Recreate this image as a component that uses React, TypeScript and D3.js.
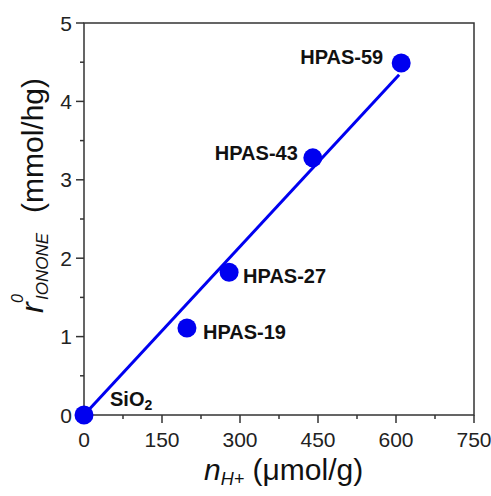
import * as d3 from 'd3';

// sample data
const samples = ['SiO2', 'HPAS-19', 'HPAS-27', 'HPAS-43', 'HPAS-59'];
const acidity = [0, 198, 279, 440, 610]; // n_H+ umol/g
const rates = [0, 1.11, 1.82, 3.28, 4.49]; // r0 mmol/hg
const fitX = [0, 606];
const fitY = [0, 4.34];
const xTicks = [0, 150, 300, 450, 600, 750];
const yTicks = [0, 1, 2, 3, 4, 5];

const W = 491;
const H = 496;
const margin = { top: 23, right: 17, bottom: 81, left: 84 };
const FONT = '"Liberation Sans", Arial, sans-serif';
const BLUE = '#0000f0';

export default function App() {
  const x = d3.scaleLinear().domain([0, 750]).range([margin.left, W - margin.right]);
  const y = d3.scaleLinear().domain([0, 5]).range([H - margin.bottom, margin.top]);
  const x0 = x(0);
  const y0 = y(0);
  const minorX = d3.range(75, 750, 150);
  const minorY = d3.range(0.5, 5, 1);
  const line = d3.line<number>().x((d) => x(fitX[d])).y((d) => y(fitY[d]));

  // label offsets relative to each point (dx, dy, anchor)
  const labelPos: Record<string, [number, number, string]> = {
    'SiO2': [26, -9, 'start'],
    'HPAS-19': [16, 11, 'start'],
    'HPAS-27': [14, 11, 'start'],
    'HPAS-43': [-15, 2, 'end'],
    'HPAS-59': [-18, 1, 'end'],
  };

  return (
    <svg width={W} height={H} style={{ position: 'absolute', left: 0, top: 0, background: '#fff' }} fontFamily={FONT}>
      <rect x={x0} y={y(5)} width={x(750) - x0} height={y0 - y(5)} fill="none" stroke="#333" strokeWidth={1.5} />
      {xTicks.map((t) => (
        <g key={'x' + t}>
          <line x1={x(t)} x2={x(t)} y1={y0} y2={y0 + 8} stroke="#333" strokeWidth={1.5} />
          <text x={x(t)} y={447} textAnchor="middle" fontSize={21} fill="#222">{t}</text>
        </g>
      ))}
      {minorX.map((t) => (
        <line key={'mx' + t} x1={x(t)} x2={x(t)} y1={y0} y2={y0 + 4} stroke="#333" strokeWidth={1.5} />
      ))}
      {yTicks.map((t) => (
        <g key={'y' + t}>
          <line x1={x0 - 8} x2={x0} y1={y(t)} y2={y(t)} stroke="#333" strokeWidth={1.5} />
          <text x={x0 - 12} y={y(t)} dy="0.36em" textAnchor="end" fontSize={21} fill="#222">{t}</text>
        </g>
      ))}
      {minorY.map((t) => (
        <line key={'my' + t} x1={x0 - 4} x2={x0} y1={y(t)} y2={y(t)} stroke="#333" strokeWidth={1.5} />
      ))}

      <path d={line([0, 1]) ?? ''} fill="none" stroke={BLUE} strokeWidth={3} />
      {samples.map((s, i) => (
        <circle key={s} cx={x(acidity[i])} cy={y(rates[i])} r={9.5} fill={BLUE} />
      ))}
      {samples.map((s, i) => {
        const [dx, dy, anchor] = labelPos[s];
        const px = x(acidity[i]) + dx;
        const py = y(rates[i]) + dy;
        if (s === 'SiO2') {
          return (
            <text key={'l' + s} x={px} y={py} textAnchor={anchor as any} fontSize={20} fontWeight="bold" fill="#111">
              SiO<tspan fontSize={14} dy={4}>2</tspan>
            </text>
          );
        }
        return (
          <text key={'l' + s} x={px} y={py} textAnchor={anchor as any} fontSize={20} fontWeight="bold" fill="#111">{s}</text>
        );
      })}

      {/* x axis title */}
      <text x={204} y={480} fontSize={30} fill="#111">
        <tspan fontStyle="italic">n</tspan>
        <tspan fontStyle="italic" fontSize={18} dy={5}>H+</tspan>
        <tspan dy={-5}> (μmol/g)</tspan>
      </text>

      {/* y axis title */}
      <g transform="translate(43,313) rotate(-90)">
        <text x={0} y={0} fontSize={32} fontStyle="italic" fill="#111">r</text>
        <text x={13} y={5} fontSize={17} fontStyle="italic" fill="#111">IONONE</text>
        <text x={10} y={-20} fontSize={16} fontStyle="italic" fill="#111">0</text>
        <text x={100} y={0} fontSize={30} fill="#111">(mmol/hg)</text>
      </g>
    </svg>
  );
}
